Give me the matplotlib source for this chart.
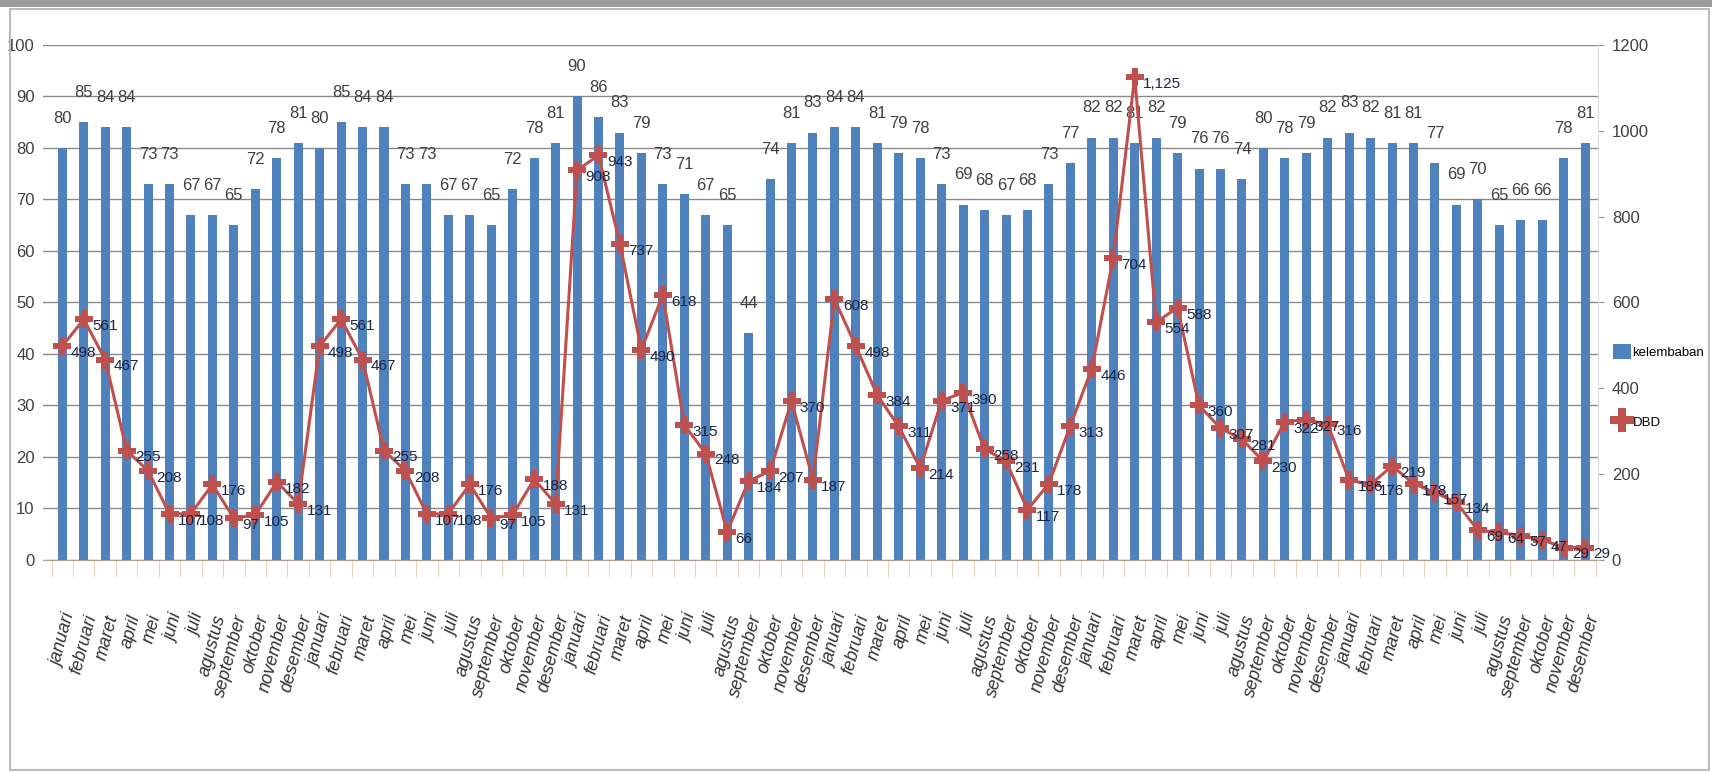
import numpy as np
import matplotlib.pyplot as plt
from matplotlib.patches import Rectangle

bulan = ['januari', 'februari', 'maret', 'april', 'mei', 'juni', 'juli',
         'agustus', 'september', 'oktober', 'november', 'desember']
labels = bulan * 6

kelembaban = [80, 85, 84, 84, 73, 73, 67, 67, 65, 72, 78, 81,
              80, 85, 84, 84, 73, 73, 67, 67, 65, 72, 78, 81,
              90, 86, 83, 79, 73, 71, 67, 65, 44, 74, 81, 83,
              84, 84, 81, 79, 78, 73, 69, 68, 67, 68, 73, 77,
              82, 82, 81, 82, 79, 76, 76, 74, 80, 78, 79, 82,
              83, 82, 81, 81, 77, 69, 70, 65, 66, 66, 78, 81]

dbd = [498, 561, 467, 255, 208, 107, 108, 176, 97, 105, 182, 131,
       498, 561, 467, 255, 208, 107, 108, 176, 97, 105, 188, 131,
       908, 943, 737, 490, 618, 315, 248, 66, 184, 207, 370, 187,
       608, 498, 384, 311, 214, 371, 390, 258, 231, 117, 178, 313,
       446, 704, 1125, 554, 588, 360, 307, 281, 230, 322, 327, 316,
       186, 176, 219, 178, 157, 134, 69, 64, 57, 47, 29, 29]

plt.rcParams['font.family'] = ['Liberation Sans', 'DejaVu Sans']

x = np.arange(len(kelembaban))

fig = plt.figure(figsize=(17.12, 7.73), dpi=100)
ax = fig.add_axes([0.0251, 0.2756, 0.9083, 0.6662])
ax2 = ax.twinx()

bars = ax.bar(x, kelembaban, width=0.42, color='#4F81BD', label='kelembaban', zorder=2)
for xi, v in zip(x, kelembaban):
    ax.annotate(str(v), (xi, v), xytext=(0, 16), textcoords='offset points',
                ha='center', va='bottom', fontsize=12, color='#404040')

line, = ax2.plot(x, dbd, color='#C0504D', lw=2.2, marker='P', markersize=13,
                 markeredgewidth=0, label='DBD', zorder=3)
for xi, v in zip(x, dbd):
    ax2.annotate(f'{v:,}', (xi, v), xytext=(6, -5), textcoords='offset points',
                 ha='left', va='center', fontsize=11, color='#1a2540')

ax.set_ylim(0, 100)
ax.set_yticks(range(0, 101, 10))
ax2.set_ylim(0, 1200)
ax2.set_yticks(range(0, 1201, 200))
ax.set_xlim(-0.9, 71.6)

ax.yaxis.grid(True, color='#8a8a8a', lw=1)
ax.set_axisbelow(True)
ax.set_zorder(1)
ax2.set_zorder(2)
ax.patch.set_visible(False)

for a in (ax, ax2):
    for s in a.spines.values():
        s.set_visible(False)
ax.spines['bottom'].set_visible(True)
ax.spines['bottom'].set_color('#b0a090')
ax2.spines['right'].set_visible(True)
ax2.spines['right'].set_color('#dddddd')

ax.tick_params(axis='y', length=0, labelsize=12, labelcolor='#404040', pad=6)
ax2.tick_params(axis='y', length=4, color='#999999', labelsize=12, labelcolor='#404040', pad=6)

# category ticks sit between the bars, labels under each bar
ax.set_xticks(np.arange(-0.5, 72, 1), minor=True)
ax.tick_params(axis='x', which='minor', length=12, color='#e8c8a8')
ax.set_xticks(x)
ax.set_xticklabels(labels, rotation=75, ha='right', va='top', rotation_mode='anchor',
                   fontsize=13, color='#333333', fontstyle='italic')
ax.tick_params(axis='x', which='major', length=0, pad=38)

fig.legend(handles=[bars, line], labels=['kelembaban', 'DBD'],
           loc='center left', bbox_to_anchor=(0.942, 0.50), frameon=False,
           borderaxespad=0, borderpad=0, fontsize=9.5, labelspacing=4.2,
           handlelength=1.4, handleheight=1.4, handletextpad=0.1, markerscale=1.3)

fig.patches.append(Rectangle((0.006, 0.004), 0.992, 0.985, transform=fig.transFigure,
                             fill=False, edgecolor='#bbbbbb', lw=1.5))
fig.patches.append(Rectangle((0.0, 0.991), 1.0, 0.009, transform=fig.transFigure,
                             color='#9a9a9a', lw=0))

fig.savefig('out.png', dpi=100)
